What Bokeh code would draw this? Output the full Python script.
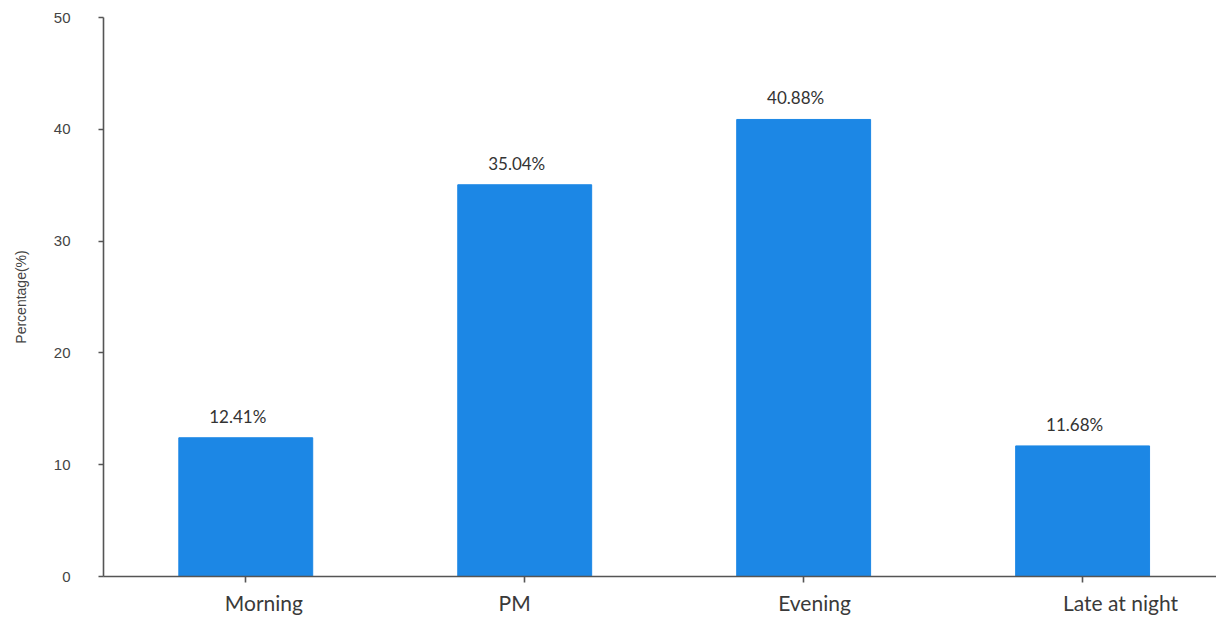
from bokeh.plotting import figure
from bokeh.models import ColumnDataSource, Range1d, FixedTicker, LabelSet, LinearAxis
from bokeh.core.properties import value
from bokeh.embed import file_html
from bokeh.resources import INLINE

# Share of activity by time of day
periods = ["Morning", "PM", "Evening", "Late at night"]
shares = [12.41, 35.04, 40.88, 11.68]
share_labels = ["12.41%", "35.04%", "40.88%", "11.68%"]
y_ticks = [0, 10, 20, 30, 40, 50]

# horizontal nudges (in bar-spacing units) for the category names
name_shift = [0.065, -0.036, 0.039, 0.136]

xs = list(range(len(periods)))
src = ColumnDataSource(dict(x=xs, top=shares, label=share_labels))

p = figure(width=1216, height=617, output_backend="svg", toolbar_location=None,
           x_range=Range1d(-0.51, 3.48), y_range=Range1d(0, 50),
           x_axis_location=None,
           min_border_left=103, min_border_right=0, min_border_top=17,
           min_border_bottom=39)
p.outline_line_color = None
p.xgrid.visible = False
p.ygrid.visible = False

p.vbar(x="x", top="top", width=0.48, bottom=0, source=src,
       fill_color="#1C87E5", line_color="#1C87E5")

value_labels = LabelSet(x="x", y="top", text="label", source=src,
                        text_align="center", text_baseline="bottom",
                        x_offset=-8, y_offset=11, text_font=value("Lato"),
                        text_font_size="17px", text_color="#333333")
p.add_layout(value_labels)

# x axis line with ticks at the bar centres (names come from name_axis)
tick_axis = LinearAxis(ticker=FixedTicker(ticks=xs),
                       major_label_overrides={i: "" for i in xs},
                       major_label_text_font_size="1px",
                       major_label_standoff=0,
                       axis_line_color="#555555", axis_line_width=1.6,
                       major_tick_line_color="#555555", major_tick_line_width=1.6,
                       major_tick_in=0, major_tick_out=6,
                       minor_tick_line_color=None)
p.add_layout(tick_axis, "below")

# category names, placed just under the tick axis
name_pos = [round(x + s, 4) for x, s in zip(xs, name_shift)]
name_axis = LinearAxis(ticker=FixedTicker(ticks=name_pos),
                       major_label_overrides={k: n for k, n in zip(name_pos, periods)},
                       major_label_text_font="Lato",
                       major_label_text_font_size="21px",
                       major_label_text_color="#3a3a3a",
                       major_label_standoff=1,
                       axis_line_color=None, major_tick_line_color=None,
                       minor_tick_line_color=None)
p.add_layout(name_axis, "below")

# y axis
p.yaxis.ticker = FixedTicker(ticks=y_ticks)
p.yaxis.axis_label = "Percentage(%)"
p.yaxis.axis_label_text_font = "Liberation Sans"
p.yaxis.axis_label_text_font_style = "normal"
p.yaxis.axis_label_text_font_size = "14px"
p.yaxis.axis_label_text_color = "#444444"
p.yaxis.axis_label_standoff = 22
p.yaxis.major_label_text_font = "Liberation Sans"
p.yaxis.major_label_text_font_size = "15px"
p.yaxis.major_label_text_color = "#444444"
p.yaxis.major_label_standoff = 28
p.yaxis.axis_line_color = "#555555"
p.yaxis.axis_line_width = 1.6
p.yaxis.major_tick_line_color = "#555555"
p.yaxis.major_tick_line_width = 1.6
p.yaxis.major_tick_in = 0
p.yaxis.major_tick_out = 5
p.yaxis.minor_tick_line_color = None

open("out.html", "w").write(file_html(p, INLINE))
